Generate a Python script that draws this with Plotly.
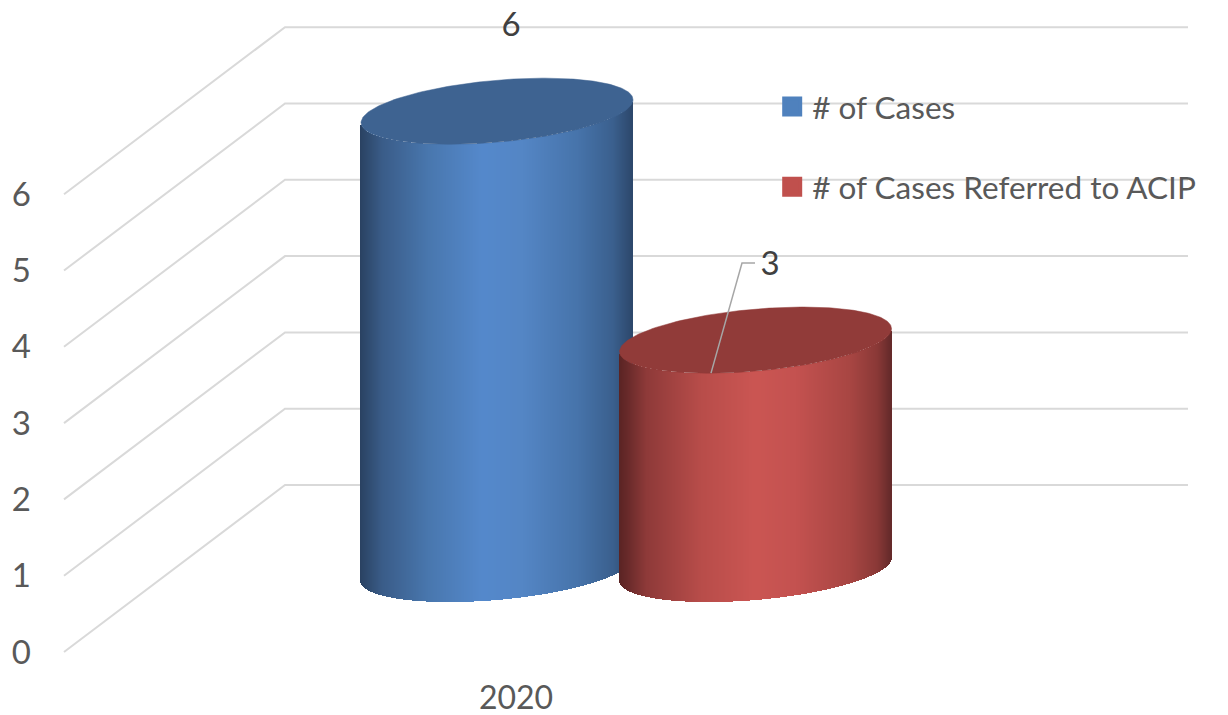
import numpy as np
import plotly.graph_objects as go

# ---- data ----
categories = ["2020"]
series_names = ["# of Cases", "# of Cases Referred to ACIP"]
series_values = [6, 3]
tick_values = [0, 1, 2, 3, 4, 5, 6]
tick_labels = ["0", "1", "2", "3", "4", "5", "6"]

# ---- scene geometry (x in px-like chart units, y in value units) ----
FIG_W, FIG_H = 1228, 715
UNIT = 76.3
PLOT_L, PLOT_B = 32, 39
Y_MIN, Y_MAX = -24 / UNIT, 652 / UNIT
WALL_X0, WALL_X1, WALL_X2 = 64, 285, 1188
WALL_RISE = 167 / UNIT
FLOOR = 83 / UNIT            # centre of the cylinder base above the axis zero
CENTRES = [497, 755.5]
RX = 136
RY = 31 / UNIT
SHEAR = 0.0846 / UNIT        # value units per x unit (ellipse tilt)
CAT_X = 516

BLUE = dict(
    stops=[0, .03, .08, .25, .45, .6, .8, .93, 1],
    r=[0x2a, 0x30, 0x3a, 0x49, 0x55, 0x54, 0x47, 0x3b, 0x2d],
    g=[0x42, 0x4c, 0x5c, 0x77, 0x89, 0x86, 0x74, 0x60, 0x48],
    b=[0x62, 0x70, 0x88, 0xae, 0xcc, 0xc5, 0xab, 0x8e, 0x6c],
    top="#3e6391", swatch="#4f81bd")
RED = dict(
    stops=[0, .03, .1, .3, .5, .65, .85, .95, 1],
    r=[0x5a, 0x68, 0x8e, 0xb8, 0xcb, 0xc4, 0xa8, 0x8a, 0x64],
    g=[0x24, 0x2a, 0x3a, 0x4d, 0x56, 0x52, 0x46, 0x39, 0x2a],
    b=[0x24, 0x2a, 0x39, 0x4a, 0x53, 0x50, 0x43, 0x37, 0x2a],
    top="#913b39", swatch="#c0504d")
STYLES = [BLUE, RED]
LABEL_X = [511, 770]
LABEL_OFFSET = [1.10, 0.96]
LEADER_X = [711, 742, 755]
LEADER_RISE = 1.01

GRID = "#d9d9d9"
TEXT = "#595959"
FONT = "Lato"


def front_arc(x, cx, level):
    """Lower edge of a tilted ellipse at x, in value units."""
    u = np.clip((x - cx) / RX, -1, 1)
    return level + SHEAR * (x - cx) - RY * np.sqrt(1 - u ** 2)


fig = go.Figure()

# walls and gridlines
for v in tick_values:
    fig.add_trace(go.Scatter(
        x=[WALL_X0, WALL_X1, WALL_X2],
        y=[v, v + WALL_RISE, v + WALL_RISE],
        mode="lines", line=dict(color=GRID, width=2),
        showlegend=False, hoverinfo="skip"))

# cylinders: body as bars, lid as a filled ellipse
for i, (name, val) in enumerate(zip(series_names, series_values)):
    st = STYLES[i]
    cx = CENTRES[i]
    top_level = FLOOR + val
    xs = np.arange(cx - RX + 0.5, cx + RX, 1.0)
    frac = (xs - (cx - RX)) / (2 * RX)
    cols = [
        "rgb(%d,%d,%d)" % (np.interp(f, st["stops"], st["r"]),
                           np.interp(f, st["stops"], st["g"]),
                           np.interp(f, st["stops"], st["b"]))
        for f in frac]
    base = front_arc(xs, cx, FLOOR)
    top = front_arc(xs, cx, top_level)
    fig.add_trace(go.Bar(
        x=xs, y=top - base, base=base, width=1.6,
        marker=dict(color=cols, line=dict(width=0)),
        xaxis="x2", yaxis="y2", showlegend=False, hoverinfo="skip"))
    t = np.linspace(0, 2 * np.pi, 240)
    ex = cx + RX * np.cos(t)
    ey = top_level + SHEAR * (ex - cx) + RY * np.sin(t)
    fig.add_trace(go.Scatter(
        x=ex, y=ey, mode="lines", fill="toself", fillcolor=st["top"],
        line=dict(color=st["top"], width=0.5),
        xaxis="x2", yaxis="y2", showlegend=False, hoverinfo="skip"))
    # legend entry
    fig.add_trace(go.Scatter(
        x=[None], y=[None], mode="markers", name=name, legendgroup=name,
        marker=dict(symbol="square", size=16, color=st["swatch"],
                    line=dict(color=st["swatch"], width=4)),
        xaxis="x2", yaxis="y2"))

# leader line for the second data label
lv = FLOOR + series_values[1]
fig.add_trace(go.Scatter(
    x=LEADER_X,
    y=[float(front_arc(np.array(LEADER_X[0], dtype=float), CENTRES[1], lv)),
       lv + LEADER_RISE, lv + LEADER_RISE],
    mode="lines", line=dict(color="#a6a6a6", width=1.5),
    xaxis="x2", yaxis="y2", showlegend=False, hoverinfo="skip"))

# data labels
fig.add_trace(go.Scatter(
    x=LABEL_X,
    y=[FLOOR + v + o for v, o in zip(series_values, LABEL_OFFSET)],
    text=[str(v) for v in series_values],
    mode="text", textposition="middle center",
    textfont=dict(family=FONT, size=33, color="#404040"),
    xaxis="x2", yaxis="y2", showlegend=False, hoverinfo="skip"))

x_range = [PLOT_L, FIG_W]
y_range = [Y_MIN, Y_MAX]
fig.update_layout(
    width=FIG_W, height=FIG_H,
    margin=dict(l=PLOT_L, r=0, t=0, b=PLOT_B, autoexpand=False),
    paper_bgcolor="white", plot_bgcolor="white",
    barmode="overlay", bargap=0,
    font=dict(family=FONT, color=TEXT),
    xaxis=dict(range=x_range, showgrid=False, zeroline=False, showline=False,
               ticks="", tickmode="array", tickvals=[CAT_X], ticktext=categories,
               tickfont=dict(family=FONT, size=32, color=TEXT)),
    yaxis=dict(range=y_range, showgrid=False, zeroline=False, showline=False,
               ticks="", tickmode="array", tickvals=tick_values, ticktext=tick_labels,
               tickfont=dict(family=FONT, size=33, color=TEXT)),
    xaxis2=dict(range=x_range, overlaying="x", visible=False),
    yaxis2=dict(range=y_range, overlaying="y", visible=False),
    legend=dict(x=760 / FIG_W, y=1 - 84 / FIG_H, xanchor="left", yanchor="top",
                bgcolor="rgba(0,0,0,0)", tracegroupgap=36.5,
                font=dict(family=FONT, size=31.5, color=TEXT), itemwidth=30),
    showlegend=True,
)

fig.write_html("out.html", config=dict(displayModeBar=False),
               post_script="document.body.style.margin='0';document.body.style.overflow='hidden';")
